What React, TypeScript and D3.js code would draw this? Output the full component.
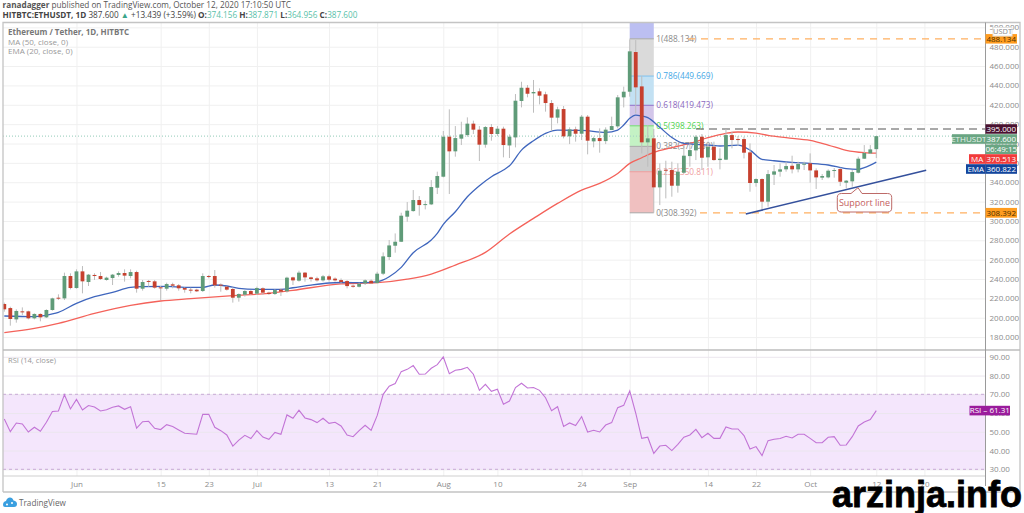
import { useRef, useEffect } from 'react';
import * as d3 from 'd3';

// Daily candles, May 20 to Oct 12 2020
const firstDay = Date.UTC(2020, 4, 20);
const lastDay = Date.UTC(2020, 9, 12);

const opens = [
  214.2, 210, 198.3, 206.6, 206.6, 199.4, 203.9, 200.4, 208, 220.7, 220, 243.1, 230.7, 247.9, 236.9, 244.2, 243.1, 239, 241, 244.2,
  246.2, 243.1, 247.2, 230, 238, 237.6, 231.4, 230, 234.5, 233.5, 230.7, 229, 229, 227.6, 243.1, 243.1, 234.2, 232.1, 229.7, 220.7,
  223.8, 227.6, 224.9, 230.4, 225.9, 224.5, 229, 227.3, 241.7, 238.3, 246.6, 241.7, 240.7, 238.6, 242.8, 240.4,
  238.9, 237.9, 233.1, 232, 235.5, 238.2, 235.8, 245.5, 262.7, 274.4, 278.5, 304.4, 310.2, 321.6, 316.4, 317.1, 334.3, 345.7, 387, 371.9,
  385, 388.7, 400.5, 394.3, 378.8, 397, 389.8, 395.3, 378, 386.3, 423.9, 437.6, 431.8, 433.9, 430.8, 421.8, 406.7, 415.6, 387.4, 394.6,
  390.1, 407.7, 382.2, 385.6, 382.5, 393.9, 397.7, 427.7,
  433.5, 474.5, 439, 381.2, 385.3, 334.7, 352.9, 352.6, 336.4, 349.8, 367, 372.9, 387, 365.7, 376.7, 362.9, 363.3, 388.7, 384.6, 384.6,
  370.8, 339.2, 343.3, 319.9, 347.8, 350.9, 353.3, 357, 353.3, 358.4, 359.5, 352.2, 344.7, 345, 351.6, 353.6, 339.5, 340.9, 349.8, 364.3,
  369.8, 374.156,
];
const highs = [
  215.6, 211.4, 208.7, 210.7, 207.3, 204.5, 204.5, 208.7, 220.7, 224.2, 246.6, 245.9, 250, 253.4, 245.2, 245.9, 247.2, 242.4, 245.2, 247.9,
  250, 250, 248.6, 239, 239, 239, 232.8, 236.2, 236.2, 234.8, 231.4, 231, 230, 245.9, 244.2, 249.3, 235.5, 232.8, 231.4, 225.2,
  228.6, 228.6, 232.1, 231.4, 226.9, 229.3, 230.4, 242.4, 242.4, 248.6, 247.2, 242.4, 242.4, 244.2, 244.5, 241.7,
  240.6, 238.9, 234.4, 236.2, 239.6, 239.6, 247.5, 267.5, 280.3, 287.1, 308.5, 319.5, 331.9, 325.7, 320.9, 342.2, 350.9, 392.9, 415.3, 398,
  402.5, 407, 403.6, 398, 398, 400.1, 398, 397.4, 389.4, 431.1, 443.8, 440.4, 445.6, 437, 433.5, 424.9, 418, 418.7, 396.7, 397.4,
  409.4, 409.4, 387, 395.6, 396.7, 407.7, 430.1, 438.7,
  487.6, 486.9, 449.7, 399.1, 395, 359.5, 362.2, 361.2, 359.5, 378.4, 380.1, 388.7, 389.8, 381.9, 381.9, 375, 395, 392.2, 387.7, 387,
  380.1, 344, 344, 352.6, 357.8, 359.5, 361.2, 367.4, 361.2, 361.2, 369.8, 354.3, 348.5, 353.3, 354.7, 355, 342.3, 352.6, 366.4, 378.4,
  378.4, 387.871,
];
const lows = [
  206.3, 191.8, 194.9, 202.8, 198.3, 198.3, 196.3, 199.7, 207.3, 218.3, 218.3, 229.3, 230, 225.2, 232.8, 239, 239, 238.3, 233.8, 242.4,
  237.3, 240.7, 225.9, 228, 232.1, 230, 218.3, 228, 230.4, 228, 225.9, 225.2, 226.6, 226.6, 240.7, 231.1, 226.9, 228, 215.6, 216.6,
  221.8, 223.5, 223.5, 223.5, 223.5, 223.5, 222.4, 225.9, 233.8, 237.3, 237.3, 237.3, 237.3, 237.3, 237.3, 237.3,
  235.5, 230.3, 231, 231.3, 233.8, 234.8, 235.5, 244.1, 259.6, 267.2, 278.2, 299.2, 309.5, 305.4, 311.9, 316.4, 327.8, 345, 327.8, 366.4,
  378.4, 387, 389.8, 361.9, 375.7, 382.9, 387.7, 365.7, 365, 376, 417.3, 427.7, 411.8, 420.4, 412.9, 392.9, 400.8, 385.3, 379.4, 381.9,
  383.6, 368.8, 376, 370.5, 379.4, 393.9, 395.6, 417.3,
  428.4, 411.1, 369.8, 356, 308.5, 316.4, 323.3, 325, 329.2, 349.1, 356, 362.9, 352.6, 356, 362.2, 353.3, 362.9, 375, 377.4, 364.6,
  330.2, 335.4, 311.3, 314.7, 337.1, 345.7, 350.9, 349.1, 350.2, 352.6, 339.5, 333, 342.3, 344, 344.7, 336, 333.6, 335.4, 349.1, 364,
  369.1, 364.956,
];
const closes = [
  208.7, 198.7, 207, 205.9, 199.4, 203.9, 200.4, 208, 220, 219.7, 243.1, 230.7, 247.9, 237.6, 244.5, 243.1, 240, 241.4, 244.5, 246.2,
  243.5, 247.2, 230, 236.9, 237.3, 231.1, 230.4, 234.8, 233.1, 230.4, 229, 228.3, 227.3, 243.1, 242.4, 233.5, 233.1, 229, 220.7, 224.5,
  227.6, 224.5, 230.7, 225.9, 224.5, 228.6, 226.9, 241.4, 238.6, 246.6, 241.7, 240, 238.6, 242.8, 239.3, 238.6,
  236.9, 232.7, 232, 235.1, 238.6, 235.5, 245.5, 263.4, 274.7, 278.5, 305.4, 310.6, 321.6, 316.4, 317.4, 335, 346.4, 387, 371.9, 385.6,
  389.4, 400.5, 394.3, 378.8, 397, 389.8, 395.3, 378.4, 387, 424.2, 437.6, 431.4, 433.2, 429.4, 421.8, 406.7, 415.3, 387.4, 394.6, 390.1,
  407.7, 382.9, 385.6, 382.5, 394.3, 398, 427.7, 433.5,
  475.2, 438, 381.2, 385.3, 334.7, 351.9, 352.2, 336.4, 350.9, 367.4, 373.2, 387, 365.3, 376.7, 362.9, 364.3, 388.7, 383.6, 383.6, 370.5,
  339.2, 343.3, 319.9, 348.4, 351.2, 353.3, 356.7, 353.3, 358.8, 359.1, 352.2, 345, 346.4, 351.9, 352.6, 340.5, 341.6, 350.5, 364.3, 370.2,
  373.9, 387.6,
];

// MA 50 and EMA 20, read at [day number, price]
const maPoints: [number, number][] = [
  [0, 184.6], [5, 189], [9, 194.2], [15, 204.5], [21, 212.8], [26, 217.3], [31, 219.7], [38, 222.8], [44, 225.2], [48, 228.3],
  [56, 235], [62, 236.2], [67, 239.9], [71, 245.1], [75, 254.4], [80, 267.5], [84, 286.5], [88, 302.6], [92, 318.1], [96, 331.9],
  [99, 338.8], [102, 349.1], [104, 359.5], [106, 365.3], [108, 370.8], [111, 375.7], [114, 380.1], [117, 386], [120, 390.5], [122, 391.9],
  [125, 390.8], [127, 388.4], [130, 386], [134, 383.2], [137, 378.4], [140, 372.9], [143, 370.5], [145, 370],
];
const emaPoints: [number, number][] = [
  [0, 201.8], [5, 201.1], [8, 203.9], [9, 205.6], [12, 214.9], [15, 221.8], [18, 226.2], [21, 231.4], [23, 232.1], [27, 232.4],
  [30, 231.4], [33, 231.4], [35, 233.8], [37, 232.8], [39, 230.4], [42, 229.3], [46, 229.3], [48, 231], [51, 233.8], [54, 235.9],
  [56, 236.4], [60, 236.2], [62, 237.2], [64, 242.4], [66, 252], [68, 267.2], [71, 280.3], [72, 287.1], [73, 296.4], [75, 309.5],
  [77, 325], [79, 336.4], [81, 345.7], [83, 352.6], [84, 357], [86, 373.2], [88, 382.9], [90, 390.5], [92, 393.9], [96, 393.6],
  [100, 391.5], [102, 393.9], [103, 399.1], [104, 406], [105, 409.4], [106, 408.4], [107, 406.7], [109, 396.7], [111, 386.3], [113, 380.1],
  [116, 378.8], [119, 377.4], [122, 378.4], [124, 373.2], [126, 363.6], [128, 362.2], [131, 360.5], [134, 359.5], [137, 357.8], [140, 354],
  [142, 353.3], [143, 355], [145, 360.8],
];

const rsiValues = [
  56.8, 50.1, 54.7, 54.2, 49.9, 52.4, 50.3, 55.1, 60.8, 61.1, 69.8, 62.2, 67.3, 61.6, 64, 63.2, 61.1, 61.8, 63.1, 63.8,
  62, 63.4, 51.9, 55.4, 55.6, 51.9, 51.2, 53.8, 52.8, 51, 49.2, 49, 48.7, 59.3, 59.3, 52.4, 50.6, 48.3, 42.4, 45.6,
  48.1, 46.4, 50.6, 47.2, 46, 49.7, 48.7, 59, 57.2, 61.5, 57.4, 56.5, 54.9, 57.2, 54.5, 55.1, 53.1, 48.3, 47.4, 50.6,
  53.5, 50.8, 58.6, 70, 74.3, 75.7, 82.1, 83.3, 85.3, 80.7, 80.8, 83.9, 85.8, 89.9, 81, 82.8, 83.3, 84.4, 80.7, 72.1,
  75.3, 71.6, 72.7, 64.7, 66.4, 73.6, 75.9, 73.4, 73.6, 72.1, 68.2, 61.3, 63.4, 52.9, 54.7, 53.3, 58.1, 49.9, 50.8, 49.9,
  53.6, 54.9, 62.9, 64.1, 71.8, 59.9, 46.5, 47.1, 38.5, 42.4, 42.8, 40, 43.3, 47.1, 48.3, 51.3, 46.9, 49.2, 46.5, 46.5,
  52.6, 51.5, 51.5, 48, 40.8, 42.1, 37.3, 45.3, 46, 46.4, 47.6, 46.7, 48.7, 48.7, 46.5, 44.2, 44.2, 47.1, 47.4, 42.8,
  43, 47.4, 53.1, 55.2, 56.5, 61.31,
];

const priceTicks = [180, 200, 220, 240, 260, 280, 300, 320, 340, 360, 380, 400, 420, 440, 460, 480, 500];
const rsiTicks = [30, 40, 50, 60, 70, 80, 90];
const timeTicks = [
  Date.UTC(2020, 5, 1), Date.UTC(2020, 5, 15), Date.UTC(2020, 5, 23), Date.UTC(2020, 6, 1), Date.UTC(2020, 6, 13),
  Date.UTC(2020, 6, 21), Date.UTC(2020, 7, 1), Date.UTC(2020, 7, 10), Date.UTC(2020, 7, 24), Date.UTC(2020, 8, 1),
  Date.UTC(2020, 8, 14), Date.UTC(2020, 8, 22), Date.UTC(2020, 9, 1), Date.UTC(2020, 9, 12), Date.UTC(2020, 9, 20),
];
const timeLabels = ['Jun', '15', '23', 'Jul', '13', '21', 'Aug', '10', '24', 'Sep', '14', '22', 'Oct', '12', '20'];

const fibLevels = ['1', '0.786', '0.618', '0.5', '0.382', '0.236', '0'];
const fibPrices = [488.134, 449.669, 419.473, 398.263, 377.05, 350.811, 308.392];
const fibFills = ['#dadada', '#c3e1f3', '#d3c6ea', '#c4f2c4', '#cdcdcd', '#f0c0c0'];
const fibLines = ['#a8a8a8', '#7cc0ee', '#9070c8', '#70dc70', '#a8a8a8', '#ee9a9a', '#a8a8a8'];
const fibText = ['#8a8a8a', '#45a8e6', '#8b68c0', '#4fd34f', '#8a8a8a', '#f0a0a0', '#8a8a8a'];

const supportDays = [123.3, 153.3];
const supportPrices = [307.2, 352.3];

const fontFamily = '"Open Sans", sans-serif';
const upColor = '#5f9b78';
const downColor = '#c6402e';
const wickColor = '#bdbdbd';

export default function App() {
  const svgRef = useRef<SVGSVGElement>(null);

  useEffect(() => {
    const width = 1024;
    const height = 513;
    const plotLeft = 3;
    const plotTop = 22.5;
    const mainBottom = 350;
    const rsiBottom = 476;
    const axisX = 985.5;

    const svg = d3.select(svgRef.current!);
    svg.selectAll('*').remove();

    const x = d3.scaleUtc().domain([firstDay, lastDay]).range([4.3, 876.3]);
    const y = d3.scaleLinear().domain([180, 480]).range([337.1, 46.7]);
    const yRsi = d3.scaleLinear().domain([30, 70]).range([469.3, 394.3]);
    const dayToMs = (d: number) => firstDay + d * 86400000;
    const xDay = (d: number) => x(dayToMs(d));

    svg.append('rect').attr('width', width).attr('height', height).attr('fill', '#fff');

    svg.append('clipPath').attr('id', 'main-clip').append('rect')
      .attr('x', plotLeft).attr('y', plotTop).attr('width', axisX - plotLeft).attr('height', mainBottom - plotTop);
    svg.append('clipPath').attr('id', 'rsi-clip').append('rect')
      .attr('x', plotLeft).attr('y', mainBottom).attr('width', axisX - plotLeft).attr('height', rsiBottom - mainBottom);

    // Grid and axes
    const timeAxis = svg.append('g')
      .attr('transform', `translate(0,${rsiBottom})`)
      .call(d3.axisBottom(x)
        .tickValues(timeTicks.map(t => new Date(t)))
        .tickSize(-(rsiBottom - plotTop))
        .tickPadding(5)
        .tickFormat((_, i) => timeLabels[i]));
    timeAxis.select('.domain').remove();
    timeAxis.selectAll('line').attr('stroke', '#f0f0f0');
    timeAxis.selectAll('text').attr('fill', '#8c8c8c').style('font-size', '8px').style('font-family', fontFamily);

    const priceAxis = svg.append('g')
      .attr('transform', `translate(${axisX},0)`)
      .attr('clip-path', null)
      .call(d3.axisRight(y)
        .tickValues(priceTicks)
        .tickSize(-(axisX - plotLeft))
        .tickPadding(4)
        .tickFormat(d => (+d).toFixed(3)));
    priceAxis.select('.domain').remove();
    priceAxis.selectAll('line').attr('stroke', '#f0f0f0');
    priceAxis.selectAll('text').attr('fill', '#8c8c8c').style('font-size', '8px').style('font-family', fontFamily);

    // RSI band goes under its grid
    svg.append('rect')
      .attr('x', plotLeft).attr('width', axisX - plotLeft)
      .attr('y', yRsi(70)).attr('height', yRsi(30) - yRsi(70))
      .attr('fill', '#f4e6fc');

    const rsiAxis = svg.append('g')
      .attr('transform', `translate(${axisX},0)`)
      .call(d3.axisRight(yRsi)
        .tickValues(rsiTicks)
        .tickSize(-(axisX - plotLeft))
        .tickPadding(4)
        .tickFormat(d => (+d).toFixed(2)));
    rsiAxis.select('.domain').remove();
    rsiAxis.selectAll('line').attr('stroke', '#ebe6ee');
    rsiAxis.selectAll('text').attr('fill', '#8c8c8c').style('font-size', '8px').style('font-family', fontFamily);

    [70, 30].forEach(level => {
      svg.append('line')
        .attr('x1', plotLeft).attr('x2', axisX)
        .attr('y1', yRsi(level)).attr('y2', yRsi(level))
        .attr('stroke', '#c9a9d6').attr('stroke-dasharray', '3 3');
    });

    // Fibonacci block
    const main = svg.append('g').attr('clip-path', 'url(#main-clip)');
    const fibX0 = x(Date.UTC(2020, 8, 1));
    const fibX1 = x(Date.UTC(2020, 8, 5));
    main.append('rect')
      .attr('x', fibX0).attr('width', fibX1 - fibX0)
      .attr('y', plotTop).attr('height', y(fibPrices[0]) - plotTop)
      .attr('fill', '#bcbff2');
    fibFills.forEach((fill, i) => {
      main.append('rect')
        .attr('x', fibX0).attr('width', fibX1 - fibX0)
        .attr('y', y(fibPrices[i])).attr('height', y(fibPrices[i + 1]) - y(fibPrices[i]))
        .attr('fill', fill);
    });
    fibLevels.forEach((level, i) => {
      main.append('line')
        .attr('x1', fibX0).attr('x2', fibX1)
        .attr('y1', y(fibPrices[i])).attr('y2', y(fibPrices[i]))
        .attr('stroke', fibLines[i]);
      main.append('text')
        .attr('x', fibX1 + 2.5).attr('y', y(fibPrices[i]) + 3)
        .attr('fill', fibText[i])
        .style('font-size', '8.3px').style('font-family', fontFamily)
        .text(`${level}(${fibPrices[i].toFixed(3)})`);
    });

    // Horizontal levels
    const levelLine = (price: number, from: number, color: string, dash: string) => {
      main.append('line')
        .attr('x1', from).attr('x2', axisX)
        .attr('y1', y(price)).attr('y2', y(price))
        .attr('stroke', color).attr('stroke-width', 1.2).attr('stroke-dasharray', dash);
    };
    levelLine(387.6, plotLeft, '#a8d5c6', '1 2');
    levelLine(488.134, 688, '#ffb060', '7 6');
    levelLine(308.392, 700, '#ffb060', '7 6');
    levelLine(395, 696, '#555', '8 5');

    // Moving averages
    const lineGen = d3.line<[number, number]>().x(d => xDay(d[0])).y(d => y(d[1])).curve(d3.curveMonotoneX);
    main.append('path').attr('d', lineGen(maPoints)).attr('fill', 'none').attr('stroke', '#f4625a').attr('stroke-width', 1.3);
    main.append('path').attr('d', lineGen(emaPoints)).attr('fill', 'none').attr('stroke', '#3f66bd').attr('stroke-width', 1.3);

    // Candles
    const candleWidth = 3.8;
    const candles = main.append('g').selectAll('g')
      .data(opens.map((open, i) => ({ i, open, high: highs[i], low: lows[i], close: closes[i] })))
      .join('g');
    candles.append('line')
      .attr('x1', d => xDay(d.i)).attr('x2', d => xDay(d.i))
      .attr('y1', d => y(d.high)).attr('y2', d => y(d.low))
      .attr('stroke', wickColor).attr('stroke-width', 1);
    candles.append('rect')
      .attr('x', d => xDay(d.i) - candleWidth / 2)
      .attr('width', candleWidth)
      .attr('y', d => y(Math.max(d.open, d.close)))
      .attr('height', d => Math.max(1, Math.abs(y(d.open) - y(d.close))))
      .attr('fill', d => (d.close >= d.open ? upColor : downColor));

    // Support line and its note
    main.append('line')
      .attr('x1', xDay(supportDays[0])).attr('y1', y(supportPrices[0]))
      .attr('x2', xDay(supportDays[1])).attr('y2', y(supportPrices[1]))
      .attr('stroke', '#34509c').attr('stroke-width', 1.6);
    svg.append('path')
      .attr('d', 'M841.5 193.5 H851 L858 187.7 L862 193.5 H887.5 Q891.7 193.5 891.7 197.5 V208 Q891.7 212 887.5 212 H841.5 Q837.3 212 837.3 208 V197.5 Q837.3 193.5 841.5 193.5 Z')
      .attr('fill', '#fff').attr('stroke', '#bd6a68').attr('stroke-width', 1);
    svg.append('text')
      .attr('x', 864.5).attr('y', 205.8).attr('text-anchor', 'middle')
      .attr('fill', '#c4605e')
      .style('font-size', '9px').style('font-family', fontFamily)
      .text('Support line');

    // RSI line
    const rsiLine = d3.line<number>().x((_, i) => xDay(i)).y(d => yRsi(d));
    svg.append('g').attr('clip-path', 'url(#rsi-clip)')
      .append('path').attr('d', rsiLine(rsiValues))
      .attr('fill', 'none').attr('stroke', '#c274d6').attr('stroke-width', 1.1);

    // Frame
    const frame = svg.append('g').attr('fill', 'none');
    frame.append('path').attr('d', `M${plotLeft} 492 V${plotTop} H1020 V492 H${plotLeft}`).attr('stroke', '#c4c4c4').attr('stroke-width', 1.3);
    frame.append('line').attr('x1', plotLeft).attr('x2', 1020).attr('y1', mainBottom).attr('y2', mainBottom).attr('stroke', '#bdbdbd').attr('stroke-width', 1.6);
    frame.append('line').attr('x1', plotLeft).attr('x2', axisX).attr('y1', rsiBottom).attr('y2', rsiBottom).attr('stroke', '#cfcfcf');
    frame.append('line').attr('x1', axisX).attr('x2', axisX).attr('y1', plotTop).attr('y2', 486).attr('stroke', '#9a9a9a').attr('stroke-width', 1);

    // Price tags on the axis
    const tag = (x0: number, x1: number, cy: number, h: number, fill: string, text: string, color: string, size = 8) => {
      svg.append('rect').attr('x', x0).attr('y', cy - h / 2).attr('width', x1 - x0).attr('height', h).attr('fill', fill);
      svg.append('text')
        .attr('x', (x0 + x1) / 2).attr('y', cy + 2.9).attr('text-anchor', 'middle')
        .attr('fill', color)
        .style('font-size', `${size}px`).style('font-family', fontFamily)
        .text(text);
    };
    tag(985.5, 1017, y(488.134), 9.5, '#ff9c1f', '488.134', '#4a3000');
    tag(985.5, 1017, y(395), 9.5, '#4a1230', '395.000', '#fff');
    tag(952, 985.5, 139, 9.6, '#6aa683', 'ETHUSDT', '#e8f3ec');
    tag(985.5, 1017, 139, 9.6, '#6aa683', '387.600', '#fff');
    tag(985.5, 1017, 149.3, 9.6, '#6aa683', '06:49:15', '#fff');
    tag(969, 985.5, 159, 9.6, '#f23b3b', 'MA', '#fff');
    tag(985.5, 1017, 159, 9.6, '#f23b3b', '370.513', '#fff');
    tag(966, 985.5, 169, 9.6, '#12459c', 'EMA', '#fff');
    tag(985.5, 1017, 169, 9.6, '#12459c', '360.822', '#fff');
    tag(985.5, 1017, y(308.392), 9.8, '#ff9c1f', '308.392', '#4a3000');
    tag(969.5, 1010, yRsi(61.31), 9.6, '#9a1c9c', 'RSI \u2013 61.31', '#fff');

    svg.append('rect').attr('x', 993).attr('y', 27.5).attr('width', 19).attr('height', 8.5).attr('fill', '#fff').attr('stroke', '#e2e2e2');
    svg.append('text').attr('x', 1002.5).attr('y', 34.3).attr('text-anchor', 'middle').attr('fill', '#8c8c8c')
      .style('font-size', '7.5px').style('font-family', fontFamily).text('USDT');

    // Header and legends
    const label = (tx: number, ty: number, text: string, color: string, size: number, weight = 400) =>
      svg.append('text').attr('x', tx).attr('y', ty).attr('fill', color)
        .style('font-size', `${size}px`).style('font-weight', weight).style('font-family', fontFamily).text(text);

    const head = label(2.5, 8, '', '#555', 8.2);
    head.append('tspan').attr('font-weight', 700).text('ranadagger');
    head.append('tspan').text(' published on TradingView.com, October 12, 2020 17:10:50 UTC');

    const quote = label(2.5, 17.5, '', '#444', 8.2);
    const quoteParts: [string, string, number][] = [
      ['HITBTC:ETHUSDT, 1D', '#444', 700], [' 387.600 ', '#444', 400], ['\u25B2', '#3aa58a', 400],
      [' +13.439 (+3.59%) ', '#444', 400], ['O:', '#444', 700], ['374.156 ', '#58bfa9', 400],
      ['H:', '#444', 700], ['387.871 ', '#58bfa9', 400], ['L:', '#444', 700], ['364.956 ', '#58bfa9', 400],
      ['C:', '#444', 700], ['387.600', '#58bfa9', 400],
    ];
    quoteParts.forEach(([text, color, weight]) => {
      quote.append('tspan').attr('fill', color).attr('font-weight', weight).text(text);
    });

    label(8, 35, 'Ethereum / Tether, 1D, HITBTC', '#777', 8, 700);
    label(8, 44.7, 'MA (50, close, 0)', '#999', 8);
    label(8, 54.4, 'EMA (20, close, 0)', '#999', 8);
    label(8, 362.5, 'RSI (14, close)', '#999', 7.6);

    // TradingView mark
    svg.append('path')
      .attr('d', 'M3 505 Q3 501.5 6 501 Q7 497.5 10 497.5 Q12.5 497.5 13.5 500.5 Q17 501 17 504 Q17 507 14 507 H5 Q3 507 3 505 Z')
      .attr('fill', '#3a9fe0');
    svg.append('circle').attr('cx', 7).attr('cy', 504.5).attr('r', 1).attr('fill', '#fff');
    svg.append('circle').attr('cx', 12).attr('cy', 503).attr('r', 1).attr('fill', '#fff');
    label(19, 505.5, 'TradingView', '#666', 8.2);

    // Site watermark
    svg.append('text')
      .attr('x', 832).attr('y', 507)
      .attr('fill', '#000').attr('stroke', '#000').attr('stroke-width', 0.8)
      .style('font-size', '36px').style('font-weight', 700).style('font-family', '"Liberation Sans", sans-serif')
      .text('arzinja.info');
  }, []);

  return (
    <svg
      ref={svgRef}
      width={1024}
      height={513}
      style={{ position: 'absolute', left: 0, top: 0, display: 'block' }}
    />
  );
}
